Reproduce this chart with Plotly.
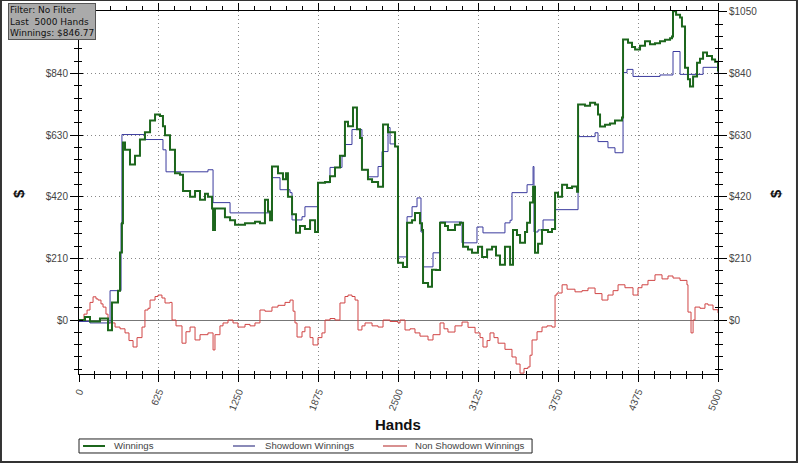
import plotly.graph_objects as go

# ---- data (hands, $) ----
win_hands = [0,47,86,164,227,258,305,321,336,344,360,399,438,477,516,556,595,634,657,673,712,751,790,814,869,908,947,986,1009,1041,1049,1064,1103,1142,1182,1221,1299,1377,1416,1455,1479,1495,1510,1557,1596,1620,1635,1667,1698,1729,1768,1808,1847,1870,1925,1964,2003,2042,2081,2105,2144,2175,2199,2214,2261,2293,2340,2379,2418,2473,2496,2535,2567,2606,2629,2668,2684,2692,2731,2762,2794,2825,2864,2887,2942,2981,3005,3044,3075,3122,3154,3193,3232,3263,3294,3333,3373,3396,3427,3451,3490,3506,3529,3553,3568,3592,3623,3670,3701,3725,3748,3780,3819,3858,3897,3905,3959,3999,4038,4061,4077,4116,4155,4194,4249,4257,4296,4327,4351,4390,4429,4468,4507,4546,4585,4625,4640,4648,4672,4703,4718,4742,4765,4781,4805,4836,4859,4883,4914,4953,4977,5000]
win_vals = [0,10,-5,5,-35,60,100,230,330,605,580,530,560,615,640,680,700,695,660,630,580,500,495,440,420,440,410,430,420,380,307,380,380,350,340,325,330,335,330,410,370,340,523,500,480,500,420,360,297,320,310,340,300,468,470,490,520,560,676,660,724,650,620,512,480,470,454,666,640,591,195,181,331,340,365,330,307,126,113,171,170,331,320,307,325,331,250,240,229,250,215,240,250,220,188,250,188,307,290,263,300,331,400,454,229,260,307,300,310,434,420,461,450,455,437,734,730,740,734,700,659,665,670,680,690,956,945,930,922,935,950,940,943,950,955,960,966,1052,1040,1031,1000,860,820,796,830,877,890,912,900,888,880,847]

sd_hands = [0,86,243,329,336,516,657,681,1009,1049,1182,1510,1573,1651,1667,1745,1768,1870,1964,2058,2081,2136,2214,2261,2340,2371,2418,2434,2473,2496,2567,2606,2645,2676,2692,2770,2825,2997,3114,3161,3333,3373,3388,3506,3553,3560,3592,3631,3725,3905,4038,4061,4139,4194,4257,4288,4335,4546,4648,4703,4883,5000]
sd_vals = [-5,-10,100,330,632,615,580,505,512,400,365,485,444,434,341,352,386,468,520,557,598,649,512,488,523,574,656,600,591,215,352,386,416,300,181,229,334,263,317,297,331,340,434,461,523,300,307,341,376,625,638,608,587,570,843,854,830,835,915,837,861,840]

nsd_hands = [0,39,63,86,110,133,149,172,188,211,227,282,321,360,391,423,454,493,516,540,556,595,618,649,673,712,728,759,806,837,869,908,947,1009,1049,1064,1103,1127,1166,1205,1244,1299,1338,1377,1416,1455,1510,1557,1612,1651,1675,1690,1706,1745,1768,1808,1831,1870,1901,1925,1964,2003,2042,2081,2105,2136,2160,2183,2214,2238,2293,2340,2379,2434,2496,2512,2551,2590,2629,2668,2731,2770,2825,2856,2887,2942,2997,3044,3099,3138,3161,3193,3216,3247,3279,3333,3388,3420,3451,3482,3513,3529,3545,3584,3623,3662,3701,3725,3740,3780,3819,3881,3936,3983,4038,4092,4139,4179,4218,4272,4335,4374,4405,4452,4507,4562,4609,4648,4703,4757,4765,4789,4805,4820,4859,4898,4922,4961,5000]
nsd_vals = [0,20,34,60,79,72,68,55,44,20,-10,-24,-30,-44,-70,-92,-60,-24,34,40,68,80,85,75,58,60,0,-20,-79,-40,-24,-68,-50,-44,-102,-50,-20,-10,0,-10,-24,-15,-20,-10,34,30,44,50,60,68,30,-10,-58,-40,-24,-60,-85,-60,-44,0,5,0,58,80,85,80,68,-34,-20,-10,-20,-24,0,-5,-10,0,-34,-30,-44,-55,-68,-50,-10,-30,-41,-20,-7,-25,-44,-60,-92,-70,-44,-60,-79,-100,-126,-150,-181,-165,-160,-120,-68,-40,-24,-20,-24,85,92,120,105,96,100,109,90,68,85,100,120,110,85,110,120,135,154,140,150,143,135,120,27,-44,0,44,40,55,51,35,24]

x_ticks = [0, 625, 1250, 1875, 2500, 3125, 3750, 4375, 5000]
y_ticks = [0, 210, 420, 630, 840, 1050]
y_labels = ["$0", "$210", "$420", "$630", "$840", "$1050"]
y_labels_left = ["$0", "$210", "$420", "$630", "$840", ""]   # $1050 hidden under info box

series_names = ["Winnings", "Showdown Winnings", "Non Showdown Winnings"]
series_colors = ["#1c661c", "#3b3b9e", "#d04545"]
legend_colors = ["#1c661c", "#8a8ab8", "#d89090"]

YR = [-184, 1053]
XR = [0, 5000]

fig = go.Figure()
fig.add_trace(go.Scatter(x=nsd_hands, y=nsd_vals, mode="lines", name=series_names[2],
                         line=dict(color=series_colors[2], width=1, shape="hv")))
fig.add_trace(go.Scatter(x=sd_hands, y=sd_vals, mode="lines", name=series_names[1],
                         line=dict(color=series_colors[1], width=1, shape="hv")))
fig.add_trace(go.Scatter(x=win_hands, y=win_vals, mode="lines", name=series_names[0],
                         line=dict(color=series_colors[0], width=2, shape="hv")))
# invisible anchors for the extra (tick-only) axes
for xa, ya in (("x", "y2"), ("x2", "y3"), ("x", "y4")):
    fig.add_trace(go.Scatter(x=[0], y=[0], xaxis=xa, yaxis=ya, mode="lines", showlegend=False,
                             line=dict(color="rgba(0,0,0,0)"), hoverinfo="skip"))

tickfont = dict(family="Liberation Sans, Arial", size=10, color="#444")
grid = dict(showgrid=True, gridcolor="#888", griddash="1px,3px", gridwidth=1)
xminor = dict(dtick=125, tick0=0, ticklen=4, tickcolor="black", showgrid=False)
yminor = dict(dtick=42, tick0=0, ticklen=4, tickcolor="black", showgrid=False)
fig.update_layout(
    width=798, height=465,
    margin=dict(l=79, r=80, t=11, b=91, autoexpand=False),
    paper_bgcolor="white", plot_bgcolor="white",
    showlegend=False,
    xaxis=dict(range=XR, tickvals=x_ticks, ticktext=[str(v) for v in x_ticks],
               tickangle=-68, tickfont=tickfont, showline=True, linecolor="black",
               linewidth=1, ticks="outside", ticklen=7, tickcolor="black", mirror="ticks",
               zeroline=False, automargin=False, minor=dict(ticks="outside", **xminor), **grid),
    xaxis2=dict(range=XR, overlaying="x", side="bottom", tickvals=x_ticks, showticklabels=False,
                ticks="inside", ticklen=4, tickcolor="black", showgrid=False, zeroline=False,
                showline=False, automargin=False, minor=dict(ticks="inside", **dict(xminor, ticklen=3))),
    yaxis=dict(range=YR, tickvals=y_ticks, ticktext=y_labels_left, tickfont=tickfont,
               showline=True, linecolor="black", linewidth=1, ticks="outside", ticklen=8,
               tickcolor="black", automargin=False,
               zeroline=True, zerolinecolor="#777", zerolinewidth=1,
               minor=dict(ticks="outside", **yminor), **grid),
    yaxis2=dict(range=YR, overlaying="y", side="right", tickvals=y_ticks, ticktext=y_labels,
                tickfont=tickfont, showline=True, linecolor="black", linewidth=1,
                ticks="outside", ticklen=8, tickcolor="black", showgrid=False, zeroline=False,
                automargin=False, minor=dict(ticks="outside", **yminor)),
    yaxis3=dict(range=YR, overlaying="y", side="left", tickvals=y_ticks, showticklabels=False,
                ticks="inside", ticklen=4, tickcolor="black", showgrid=False, zeroline=False,
                showline=False, automargin=False, minor=dict(ticks="inside", **dict(yminor, ticklen=3))),
    yaxis4=dict(range=YR, overlaying="y", side="right", tickvals=y_ticks, showticklabels=False,
                ticks="inside", ticklen=4, tickcolor="black", showgrid=False, zeroline=False,
                showline=False, automargin=False, minor=dict(ticks="inside", **dict(yminor, ticklen=3))),
)

# axis titles
fig.add_annotation(text="<b>Hands</b>", xref="paper", yref="paper", x=0.499, y=-0.138,
                   xanchor="center", yanchor="middle", showarrow=False,
                   font=dict(family="Liberation Sans, Arial", size=15, color="#111"))
for xp in (-0.0955, 1.089):
    fig.add_annotation(text="<b>$</b>", xref="paper", yref="paper", x=xp, y=0.4986,
                       xanchor="center", yanchor="middle", showarrow=False, textangle=-90,
                       font=dict(family="Liberation Sans, Arial", size=15, color="#111"))

# info box
fig.add_annotation(text="Filter: No Filter<br>Last  5000 Hands<br>Winnings: $846.77",
                   xref="paper", yref="paper", x=-0.111, y=1.022, xanchor="left", yanchor="top",
                   align="left", showarrow=False, bgcolor="#aaaaaa", bordercolor="#555",
                   borderwidth=1, borderpad=1,
                   font=dict(family="DejaVu Sans, Verdana", size=9, color="#111"))

# custom legend (box, line samples, labels)
fig.add_shape(type="rect", xref="paper", yref="paper", x0=0.0, x1=0.709, y0=-0.2176, y1=-0.179,
              line=dict(color="#222", width=1), fillcolor="white")
leg_line_x = [(0.0063, 0.0407), (0.241, 0.2754), (0.4757, 0.5133)]
leg_text_x = [0.0516, 0.288, 0.5227]
for i, name in enumerate(series_names):
    x0, x1 = leg_line_x[i]
    fig.add_shape(type="line", xref="paper", yref="paper", x0=x0, x1=x1, y0=-0.1983, y1=-0.1983,
                  line=dict(color=legend_colors[i], width=2))
    fig.add_annotation(text=name, xref="paper", yref="paper", x=leg_text_x[i], y=-0.1983,
                       xanchor="left", yanchor="middle", showarrow=False,
                       font=dict(family="Liberation Sans, Arial", size=9.6, color="#444"))

# outer frame
fig.add_shape(type="rect", xref="paper", yref="paper", x0=-0.1221, x1=1.1236, y0=-0.2424, y1=1.0303,
              line=dict(color="#333", width=2), layer="above")

fig.write_html("out.html")
